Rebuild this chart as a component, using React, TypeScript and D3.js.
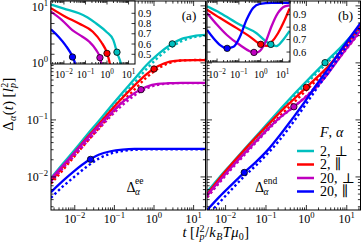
import React from 'react';
import * as d3 from 'd3';

const FONT = "'Liberation Serif', 'DejaVu Serif', serif";
const COLORS = ['#00bfbf', '#ff0000', '#bf00bf', '#0000ff'];
const legendNums = ['2', '2', '20', '20'];
const legendSyms = ['⊥', '∥', '⊥', '∥'];

const xTickExps = [-2, -1, 0, 1];
const yTickExps = [-2, -1, 0, 1];
const insetATicks = [0.5, 0.6, 0.7, 0.8, 0.9];
const insetBTicks = [0.6, 0.7, 0.8, 0.9];

// ---- panel (a): end-to-end ----
const tA = [0.0025, 0.005, 0.01, 0.02, 0.04, 0.08, 0.16, 0.32, 0.64, 1.25, 2.5, 5, 10, 20];
const eeCyan = [0.0095, 0.017, 0.030, 0.054, 0.095, 0.17, 0.30, 0.52, 0.91, 1.41, 2.04, 2.63, 2.95, 3.09];
const eeCyanDot = [0.0087, 0.0155, 0.027, 0.048, 0.083, 0.148, 0.257, 0.447, 0.776, 1.23, 1.82, 2.40, 2.82, 3.02];
const eeRed = [0.0085, 0.015, 0.027, 0.048, 0.083, 0.145, 0.245, 0.40, 0.63, 0.87, 1.05, 1.11, 1.12, 1.12];
const eeRedDot = [0.0076, 0.0132, 0.0234, 0.041, 0.071, 0.123, 0.209, 0.34, 0.55, 0.79, 1.0, 1.10, 1.12, 1.12];
const eeMag = [0.0093, 0.0158, 0.027, 0.046, 0.078, 0.129, 0.204, 0.295, 0.38, 0.427, 0.44, 0.447, 0.447, 0.447];
const eeMagDot = [0.0083, 0.0141, 0.024, 0.041, 0.069, 0.115, 0.182, 0.269, 0.355, 0.412, 0.436, 0.442, 0.442, 0.442];
const eeBlue = [0.0054, 0.0085, 0.0129, 0.0186, 0.0245, 0.0282, 0.0302, 0.031, 0.031, 0.031, 0.031, 0.031, 0.031, 0.031];
const eeBlueDot = [0.0043, 0.0068, 0.0102, 0.0151, 0.0209, 0.0257, 0.0285, 0.0299, 0.0305, 0.0305, 0.0305, 0.0305, 0.0305, 0.0305];
const circTA = [2.9, 1.0, 0.47, 0.025];

// ---- panel (b): end monomer ----
const tB = [0.0035, 0.007, 0.014, 0.028, 0.056, 0.11, 0.22, 0.45, 0.9, 1.8, 3.5, 7, 14, 22];
const endCyan = [0.0055, 0.0098, 0.0170, 0.0295, 0.0513, 0.0871, 0.151, 0.263, 0.437, 0.724, 1.15, 1.86, 3.16, 4.57];
const endCyanDot = [0.0050, 0.0089, 0.0155, 0.0269, 0.0468, 0.0794, 0.138, 0.240, 0.398, 0.661, 1.05, 1.70, 2.88, 4.17];
const endRed = [0.0050, 0.0093, 0.0166, 0.0288, 0.049, 0.081, 0.135, 0.219, 0.347, 0.55, 0.87, 1.58, 3.02, 4.68];
const endRedDot = [0.0044, 0.0081, 0.0145, 0.0251, 0.0427, 0.0708, 0.117, 0.19, 0.309, 0.50, 0.81, 1.48, 2.82, 4.37];
const endMag = [0.0048, 0.0085, 0.0148, 0.0251, 0.0417, 0.069, 0.110, 0.162, 0.240, 0.38, 0.66, 1.29, 2.45, 3.72];
const endMagDot = [0.0044, 0.0079, 0.0138, 0.0234, 0.0398, 0.066, 0.107, 0.162, 0.245, 0.398, 0.692, 1.29, 2.40, 3.55];
const endBlue = [0.00263, 0.00447, 0.00724, 0.0117, 0.0182, 0.0295, 0.0537, 0.105, 0.204, 0.417, 0.794, 1.62, 3.24, 5.01];
const endBlueDot = [0.0021, 0.00355, 0.0060, 0.0100, 0.0158, 0.0257, 0.0447, 0.087, 0.174, 0.355, 0.676, 1.38, 2.75, 4.27];
const circTB = [2.9, 1.0, 0.49, 0.029];

// ---- inset (a) ----
const iaCyanT = [0.0025, 0.01, 0.05, 0.126, 0.316, 0.93, 1.95, 3.0, 4.4, 5.6];
const iaCyanV = [0.985, 0.945, 0.90, 0.86, 0.80, 0.72, 0.64, 0.51, 0.41, 0.30];
const iaRedT = [0.0025, 0.0117, 0.05, 0.219, 0.537, 1.05, 1.35, 1.66];
const iaRedV = [0.95, 0.867, 0.80, 0.72, 0.62, 0.50, 0.41, 0.30];
const iaMagT = [0.0025, 0.0081, 0.0245, 0.0724, 0.151, 0.316, 0.49, 0.537, 0.63];
const iaMagV = [0.916, 0.834, 0.736, 0.671, 0.622, 0.54, 0.459, 0.41, 0.30];
const iaBlueT = [0.0025, 0.0056, 0.0117, 0.0257, 0.0324, 0.038];
const iaBlueV = [0.743, 0.671, 0.589, 0.469, 0.41, 0.30];

// ---- inset (b) ----
const ibCyanT = [0.0035, 0.0138, 0.112, 0.646, 1.82, 2.82, 5.25, 10.5, 21];
const ibCyanV = [0.967, 0.914, 0.819, 0.751, 0.683, 0.662, 0.648, 0.697, 0.77];
const ibRedT = [0.0035, 0.0138, 0.0794, 0.316, 1.0, 2.0, 3.16, 6.17, 12.6, 21];
const ibRedV = [0.941, 0.873, 0.792, 0.724, 0.662, 0.65, 0.68, 0.751, 0.859, 0.95];
const ibMagT = [0.0035, 0.01, 0.0282, 0.112, 0.49, 0.76, 1.82, 3.09, 6.17, 12.6, 21];
const ibMagV = [0.914, 0.819, 0.737, 0.656, 0.597, 0.60, 0.697, 0.805, 0.914, 0.967, 0.975];
const ibBlueT = [0.0035, 0.0069, 0.0138, 0.0282, 0.0562, 0.112, 0.224, 0.447, 0.91, 3.16, 21];
const ibBlueV = [0.778, 0.711, 0.656, 0.629, 0.642, 0.724, 0.859, 0.954, 0.987, 0.995, 0.995];

function interp(ts: number[], vs: number[], t: number, logV: boolean) {
  const lt = Math.log10(t);
  for (let i = 0; i < ts.length - 1; i++) {
    const a = Math.log10(ts[i]), b = Math.log10(ts[i + 1]);
    if (lt >= a && lt <= b) {
      const f = (lt - a) / (b - a);
      if (logV) return Math.pow(10, Math.log10(vs[i]) + f * (Math.log10(vs[i + 1]) - Math.log10(vs[i])));
      return vs[i] + f * (vs[i + 1] - vs[i]);
    }
  }
  return vs[vs.length - 1];
}

function Pow({ x, y, e, fs, anchor = 'middle' }: any) {
  return (
    <text x={x} y={y} fontSize={fs} textAnchor={anchor} fontFamily={FONT} fill="#000">
      10<tspan dy={-fs * 0.42} fontSize={fs * 0.72}>{e}</tspan>
    </text>
  );
}

function logTicks(scale: any) {
  return scale.ticks().map((v: number) => ({
    v,
    major: Math.abs(Math.log10(v) - Math.round(Math.log10(v))) < 1e-6,
  }));
}

function frameTicks(key: string, xs: any, ys: any, xt: any[], yt: any[], L: number, l: number) {
  const [x0, x1] = xs.range();
  const [y1, y0] = ys.range();
  const out: any[] = [];
  xt.forEach((d, i) => {
    const px = xs(d.v);
    if (px < x0 - 0.1 || px > x1 + 0.1) return;
    const len = d.major ? L : l;
    out.push(<line key={`${key}xb${i}`} x1={px} x2={px} y1={y1} y2={y1 - len} stroke="#000" strokeWidth={0.8} />);
    out.push(<line key={`${key}xt${i}`} x1={px} x2={px} y1={y0} y2={y0 + len} stroke="#000" strokeWidth={0.8} />);
  });
  yt.forEach((d, i) => {
    const py = ys(d.v);
    if (py < y0 - 0.1 || py > y1 + 0.1) return;
    const len = d.major ? L : l;
    out.push(<line key={`${key}yl${i}`} x1={x0} x2={x0 + len} y1={py} y2={py} stroke="#000" strokeWidth={0.8} />);
    out.push(<line key={`${key}yr${i}`} x1={x1} x2={x1 - len} y1={py} y2={py} stroke="#000" strokeWidth={0.8} />);
  });
  out.push(<rect key={`${key}fr`} x={x0} y={y0} width={x1 - x0} height={y1 - y0} fill="none" stroke="#000" strokeWidth={1} />);
  return out;
}

export default function App() {
  const top = 1, bottom = 210;
  const y = d3.scaleLog().domain([Math.pow(10, -2.58), Math.pow(10, 1.085)]).range([bottom, top]);
  const xa = d3.scaleLog().domain([Math.pow(10, -2.6), Math.pow(10, 1.3)]).range([51, 205.5]);
  const xb = d3.scaleLog().domain([Math.pow(10, -2.46), Math.pow(10, 1.34)]).range([207, 360.5]);
  const ixa = d3.scaleLog().domain(xa.domain()).range([51, 135]);
  const ixb = d3.scaleLog().domain(xb.domain()).range([207, 290]);
  const iya = d3.scaleLinear().domain([0.405, 1.02]).range([64, 1]);
  const iyb = d3.scaleLinear().domain([0.52, 1.01]).range([62, 1]);

  const mainA = [
    [eeCyan, eeCyanDot], [eeRed, eeRedDot], [eeMag, eeMagDot], [eeBlue, eeBlueDot],
  ];
  const mainB = [
    [endCyan, endCyanDot], [endRed, endRedDot], [endMag, endMagDot], [endBlue, endBlueDot],
  ];
  const insA = [[iaCyanT, iaCyanV], [iaRedT, iaRedV], [iaMagT, iaMagV], [iaBlueT, iaBlueV]];
  const insB = [[ibCyanT, ibCyanV], [ibRedT, ibRedV], [ibMagT, ibMagV], [ibBlueT, ibBlueV]];

  const mkLine = (xs: any, ys: any) =>
    d3.line<[number, number]>().x(d => xs(d[0])).y(d => ys(d[1])).curve(d3.curveMonotoneX);

  const lineA = mkLine(xa, y);
  const lineB = mkLine(xb, y);
  const lineIA = mkLine(ixa, iya);
  const lineIB = mkLine(ixb, iyb);

  const renderMain = (key: string, ts: number[], sets: number[][][], gen: any, xs: any, circT: number[]) => (
    <g key={key} clipPath={`url(#clip${key})`}>
      {sets.map((pair, i) => (
        <g key={i}>
          <path d={gen(ts.map((t, j) => [t, pair[0][j]]))} fill="none" stroke={COLORS[i]} strokeWidth={2.3} />
          <path d={gen(ts.map((t, j) => [t, pair[1][j]]))} fill="none" stroke={COLORS[i]} strokeWidth={2.4} strokeDasharray="2.4 2.6" />
        </g>
      ))}
      {sets.map((pair, i) => (
        <circle key={`c${i}`} cx={xs(circT[i])} cy={y(interp(ts, pair[0], circT[i], true))} r={3.2}
          fill={COLORS[i]} stroke="#000" strokeWidth={0.8} />
      ))}
    </g>
  );

  const renderInset = (key: string, sets: number[][][], gen: any, xs: any, ys: any, circT: number[]) => (
    <g key={key}>
      <rect x={xs.range()[0]} y={ys.range()[1]} width={xs.range()[1] - xs.range()[0]} height={ys.range()[0] - ys.range()[1]} fill="#fff" />
      <g clipPath={`url(#clip${key})`}>
        {sets.map((s, i) => (
          <path key={i} d={gen(s[0].map((t, j) => [t, s[1][j]]))} fill="none" stroke={COLORS[i]} strokeWidth={2.3} />
        ))}
        {sets.map((s, i) => (
          <circle key={`c${i}`} cx={xs(circT[i])} cy={ys(interp(s[0], s[1], circT[i], false))} r={3.2}
            fill={COLORS[i]} stroke="#000" strokeWidth={0.8} />
        ))}
      </g>
    </g>
  );

  const yT = logTicks(y);
  const xaT = logTicks(xa);
  const xbT = logTicks(xb);
  const ixaT = logTicks(ixa);
  const ixbT = logTicks(ixb);
  const iyaT = insetATicks.map(v => ({ v, major: true }));
  const iybT = insetBTicks.map(v => ({ v, major: true }));

  const clipRect = (id: string, xs: any, ys: any) => (
    <clipPath id={`clip${id}`} key={id}>
      <rect x={xs.range()[0]} y={ys.range()[1]} width={xs.range()[1] - xs.range()[0]} height={ys.range()[0] - ys.range()[1]} />
    </clipPath>
  );

  return (
    <svg width={363} height={247} style={{ position: 'absolute', left: 0, top: 0, background: '#fff' }} fontFamily={FONT}>
      <defs>
        {clipRect('A', xa, y)}
        {clipRect('B', xb, y)}
        {clipRect('IA', ixa, iya)}
        {clipRect('IB', ixb, iyb)}
      </defs>
      <rect x={0} y={0} width={363} height={247} fill="#fff" />

      {renderMain('A', tA, mainA, lineA, xa, circTA)}
      {renderMain('B', tB, mainB, lineB, xb, circTB)}
      {frameTicks('fa', xa, y, xaT, yT, 5, 2.6)}
      {frameTicks('fb', xb, y, xbT, yT, 5, 2.6)}

      {renderInset('IA', insA, lineIA, ixa, iya, circTA)}
      {renderInset('IB', insB, lineIB, ixb, iyb, circTB)}
      {frameTicks('fia', ixa, iya, ixaT, iyaT, 3.5, 2)}
      {frameTicks('fib', ixb, iyb, ixbT, iybT, 3.5, 2)}

      {/* main tick labels */}
      {yTickExps.map(e => (
        <Pow key={`yl${e}`} x={48} y={y(Math.pow(10, e)) + (e === 1 ? 5 : 4)} e={e < 0 ? `−${-e}` : `${e}`} fs={12} anchor="end" />
      ))}
      {xTickExps.map(e => (
        <Pow key={`xa${e}`} x={xa(Math.pow(10, e))} y={223} e={e < 0 ? `−${-e}` : `${e}`} fs={12} />
      ))}
      {xTickExps.map(e => (
        <Pow key={`xb${e}`} x={xb(Math.pow(10, e))} y={223} e={e < 0 ? `−${-e}` : `${e}`} fs={12} />
      ))}
      {/* inset tick labels */}
      {xTickExps.map(e => (
        <Pow key={`ixa${e}`} x={ixa(Math.pow(10, e))} y={78} e={e < 0 ? `−${-e}` : `${e}`} fs={10} />
      ))}
      {xTickExps.map(e => (
        <Pow key={`ixb${e}`} x={ixb(Math.pow(10, e))} y={78} e={e < 0 ? `−${-e}` : `${e}`} fs={10} />
      ))}
      {insetATicks.map(v => (
        <text key={`iya${v}`} x={138} y={iya(v) + 3.6} fontSize={10.5}>{v.toFixed(1)}</text>
      ))}
      {insetBTicks.map(v => (
        <text key={`iyb${v}`} x={293} y={iyb(v) + 3.6} fontSize={10.5}>{v.toFixed(1)}</text>
      ))}

      {/* panel labels */}
      <text x={189} y={19.5} fontSize={13} textAnchor="middle">(a)</text>
      <text x={345.5} y={19.5} fontSize={13} textAnchor="middle">(b)</text>

      {/* Delta annotations */}
      <text x={126.5} y={191.5} fontSize={14}>Δ</text>
      <text x={135} y={184} fontSize={9.5}>ee</text>
      <text x={135} y={195} fontSize={9.5} fontStyle="italic">α</text>
      <text x={255} y={191.5} fontSize={14}>Δ</text>
      <text x={263.5} y={184} fontSize={9.5}>end</text>
      <text x={263.5} y={195} fontSize={9.5} fontStyle="italic">α</text>

      {/* legend */}
      <text x={320} y={137} fontSize={14}><tspan fontStyle="italic">F</tspan>,<tspan dx={4} fontStyle="italic">α</tspan></text>
      {legendNums.map((num, i) => (
        <g key={i}>
          <line x1={297} x2={314} y1={151 + i * 13.5} y2={151 + i * 13.5} stroke={COLORS[i]} strokeWidth={2.5} />
          <text x={320} y={155.5 + i * 13.5} fontSize={14}>{num},<tspan dx={4}>{legendSyms[i]}</tspan></text>
        </g>
      ))}

      {/* axis titles */}
      <text transform="translate(13,104) rotate(-90)" fontSize={14.5} textAnchor="middle" letterSpacing={0.4}>
        Δ<tspan fontSize={10} fontStyle="italic" dy={3}>α</tspan>
        <tspan dy={-3}>(</tspan><tspan fontStyle="italic">t</tspan><tspan>)</tspan>
        <tspan dx={3}>[</tspan>
        <tspan fontStyle="italic">l</tspan>
        <tspan fontSize={10} dy={-5.5}>2</tspan>
        <tspan fontSize={10} fontStyle="italic" dx={-5.5} dy={8.5}>p</tspan>
        <tspan dy={-3}>]</tspan>
      </text>
      <text x={216} y={237} fontSize={14.5} textAnchor="middle" letterSpacing={0.4}>
        <tspan fontStyle="italic">t</tspan><tspan dx={3}>[</tspan><tspan fontStyle="italic">l</tspan>
        <tspan fontSize={10} dy={-5.5}>2</tspan>
        <tspan fontSize={10} fontStyle="italic" dx={-5.5} dy={8.5}>p</tspan>
        <tspan dy={-3}>/</tspan><tspan fontStyle="italic">k</tspan>
        <tspan fontSize={10} fontStyle="italic" dy={3}>B</tspan>
        <tspan fontStyle="italic" dy={-3}>Tμ</tspan>
        <tspan fontSize={10} dy={3}>0</tspan>
        <tspan dy={-3}>]</tspan>
      </text>
    </svg>
  );
}
